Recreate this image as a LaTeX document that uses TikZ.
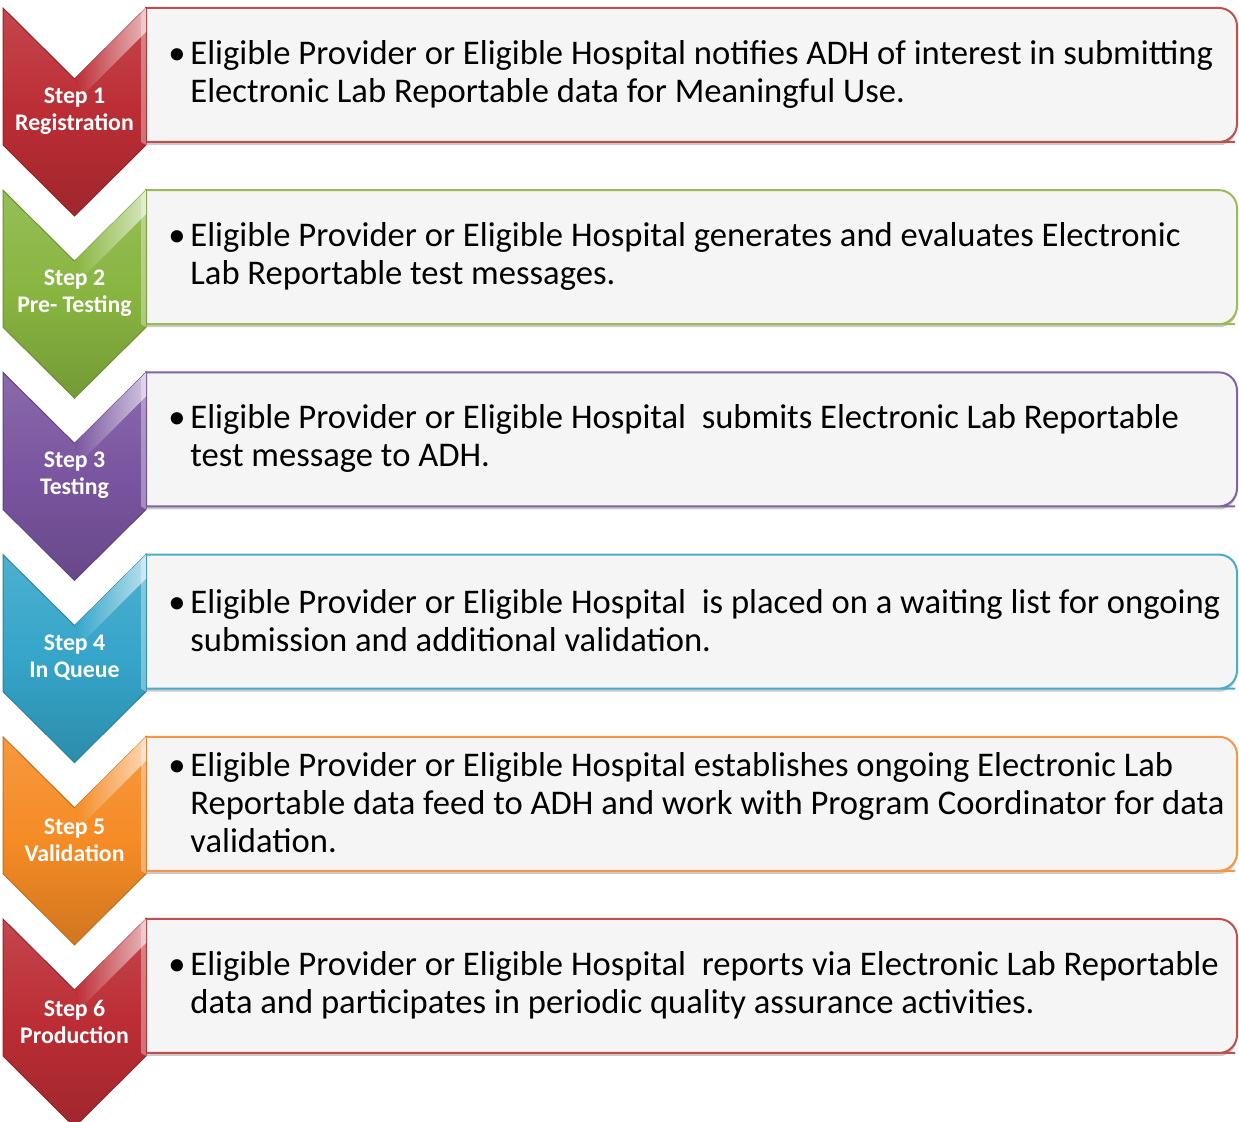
\documentclass[tikz,border=0pt]{standalone}
\usepackage{fontspec}
\setmainfont{Carlito}
\usetikzlibrary{shadows}

\definecolor{rot}{HTML}{BC2D35}
\definecolor{gruen}{HTML}{88B540}
\definecolor{lila}{HTML}{7A55A0}
\definecolor{tuerkis}{HTML}{35A5C9}
\definecolor{orange}{HTML}{F58B25}
\definecolor{rotrand}{HTML}{C0504D}
\definecolor{gruenrand}{HTML}{9BBB59}
\definecolor{lilarand}{HTML}{8064A2}
\definecolor{tuerkisrand}{HTML}{4BACC6}
\definecolor{orangerand}{HTML}{F79646}

\tikzset{
    kasten/.style={line width=1pt, fill=black!4, drop shadow={shadow xshift=0pt, shadow yshift=-1.5pt, opacity=.35, fill=black!60}},
    pfeil/.style={line width=.5pt},
    beschriftung/.style={text=white, font=\bfseries\fontsize{11.9}{13.5}\selectfont, align=center},
    inhalt/.style={anchor=west, inner sep=0pt, font=\fontsize{17.3}{19}\selectfont}
}

\begin{document}
\begin{tikzpicture}[x=0.5pt, y=-0.5pt]
        \def\abstand{182.2}
        \def\hoehe{137}
        \useasboundingbox (0,0) rectangle (1239,1122);

        \foreach \nr/\farbe/\titel/\zeilen in {
            1/rot/{Step 1\\Registration}/{Eligible Provider or Eligible Hospital notifies ADH of interest in submitting\\Electronic Lab Reportable data for Meaningful Use.},
            2/gruen/{Step 2\\Pre- Testing}/{Eligible Provider or Eligible Hospital generates and evaluates Electronic\\Lab Reportable test messages.},
            3/lila/{Step 3\\Testing}/{Eligible Provider or Eligible Hospital \ submits Electronic Lab Reportable\\test message to ADH.},
            4/tuerkis/{Step 4\\In Queue}/{Eligible Provider or Eligible Hospital \ is placed on a waiting list for ongoing\\submission and additional validation.},
            5/orange/{Step 5\\Validation}/{Eligible Provider or Eligible Hospital establishes ongoing Electronic Lab\\Reportable data feed to ADH and work with Program Coordinator for data\\validation.},
            6/rot/{Step 6\\Production}/{Eligible Provider or Eligible Hospital \ reports via Electronic Lab Reportable\\data and participates in periodic quality assurance activities.}}
        {
            \pgfmathsetmacro{\oben}{8+\abstand*(\nr-1)}
            % Kasten
            \draw[kasten, draw=\farbe rand] (146,\oben) -- (1217,\oben) [rounded corners=9pt] -- (1237,\oben) -- (1237,\oben+134) -- (1217,\oben+134) [sharp corners] -- (146,\oben+134) -- cycle;
            \node[inhalt] (text\nr) at (168,\oben+66) {\makebox[11pt][l]{\textbullet}\parbox[t]{535pt}{\raggedright\zeilen}};

            % Pfeil
            \draw[pfeil, draw=\farbe!80!black, top color=\farbe!88!white, bottom color=\farbe!85!black, middle color=\farbe] (3,\oben) -- (74.5,\oben+71) -- (146,\oben) -- (146,\oben+\hoehe) -- (74.5,\oben+\hoehe+71) -- (3,\oben+\hoehe) -- cycle;
            % Glanzkante
            \shade[left color=\farbe, right color=\farbe!35!white] (74.5,\oben+71) -- (146,\oben) -- (146,\oben+24) -- (79,\oben+91) -- cycle;
            \fill[white, opacity=.35] (146,\oben) -- (146,\oben+\hoehe) -- (141,\oben+\hoehe-3) -- (141,\oben+6) -- cycle;
            \node[beschriftung] (titel\nr) at (74.5,\oben+103) {\titel};
        }
\end{tikzpicture}
\end{document}
